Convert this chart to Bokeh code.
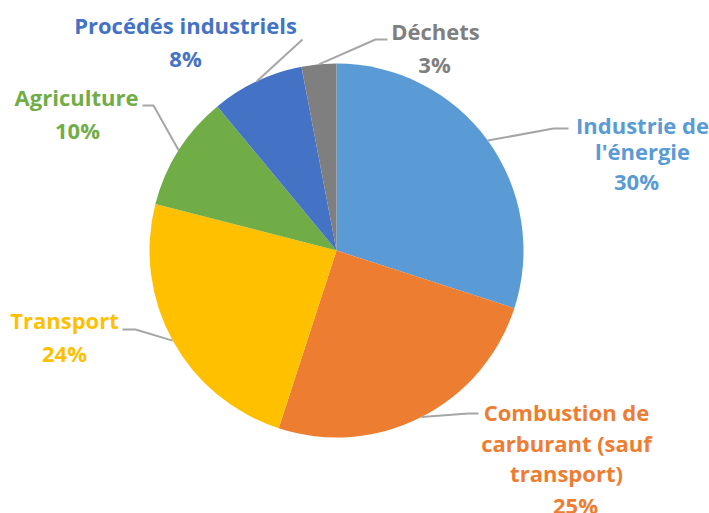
import math
from bokeh.plotting import figure
from bokeh.models import Range1d
from bokeh.core.properties import value
from bokeh.embed import file_html
from bokeh.resources import INLINE

# ---- data ----
categories = ["Industrie de l'énergie", "Combustion de carburant (sauf transport)",
              "Transport", "Agriculture", "Procédés industriels", "Déchets"]
label_lines = [["Industrie de", "l'énergie"],
               ["Combustion de", "carburant (sauf", "transport)"],
               ["Transport"], ["Agriculture"], ["Procédés industriels"], ["Déchets"]]
shares = [30, 25, 24, 10, 8, 3]
colors = ["#5B9BD5", "#ED7D31", "#FFC000", "#70AD47", "#4472C4", "#7F7F7F"]

# ---- layout (screen pixels) ----
W, H = 709, 513
def sy(y):
    return H - y

CX, CY, R = 336, 250, 187
FONT = "Open Sans"
FSIZE = "22px"
TEXT_SHIFT = 9
name_x = [642, 566, 64, 76, 185, 435]
pct_x = [636, 575, 64, 77, 185, 434]
baselines = [[133, 159, 189], [420, 451, 481, 513], [328, 361], [105, 138], [33, 66], [39, 72]]
leader_pts = [[(553, 128), (568, 128)], [(468, 413), (478, 413)], [(135, 329), (122, 329)],
              [(153, 105), (142, 105)], [(302, 39), (302, 39)], [(375, 39), (387, 39)]]

p = figure(width=W, height=H, x_range=Range1d(0, W), y_range=Range1d(0, H),
           output_backend="svg", toolbar_location=None, min_border=0)
p.axis.visible = False
p.grid.visible = False
p.outline_line_color = None
p.background_fill_color = "white"

total = float(sum(shares))
cum = 0.0
for i, s in enumerate(shares):
    f0 = cum / total
    f1 = (cum + s) / total
    cum += s
    a0 = math.pi / 2 - 2 * math.pi * f0
    a1 = math.pi / 2 - 2 * math.pi * f1
    p.wedge(x=CX, y=sy(CY), radius=R, start_angle=a1, end_angle=a0,
            fill_color=colors[i], line_color=None)
    # leader line from slice mid-edge
    am = (a0 + a1) / 2
    ex = CX + R * math.cos(am)
    ey = sy(CY) + R * math.sin(am)
    xs = [ex] + [pt[0] for pt in leader_pts[i]]
    ys = [ey] + [sy(pt[1]) for pt in leader_pts[i]]
    p.line(xs, ys, line_color="#A6A6A6", line_width=2)
    # labels
    lines = label_lines[i]
    for j, t in enumerate(lines):
        p.text(x=[name_x[i]], y=[sy(baselines[i][j] - TEXT_SHIFT)], text=[t],
               text_font=value(FONT), text_font_size=FSIZE, text_font_style="bold",
               text_color=colors[i], text_align="center", text_baseline="alphabetic")
    p.text(x=[pct_x[i]], y=[sy(baselines[i][len(lines)] - TEXT_SHIFT)], text=[f"{s}%"],
           text_font=value(FONT), text_font_size=FSIZE, text_font_style="bold",
           text_color=colors[i], text_align="center", text_baseline="alphabetic")

open("out.html", "w").write(file_html(p, INLINE))
